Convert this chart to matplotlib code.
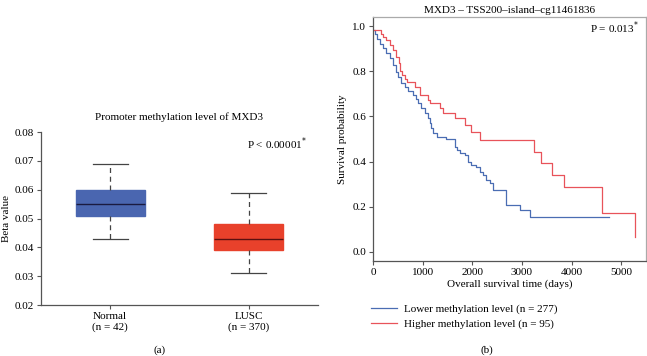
import matplotlib
matplotlib.use("Agg")
import matplotlib.pyplot as plt
from matplotlib.lines import Line2D

plt.rcParams['font.family'] = ['Liberation Serif', 'DejaVu Serif']

# ---- Panel (a) data: box plot statistics ----
groups = ["Normal\n(n = 42)", "LUSC\n(n = 370)"]
whislo = [0.043, 0.031]
q1 = [0.051, 0.039]
med = [0.055, 0.043]
q3 = [0.060, 0.048]
whishi = [0.069, 0.059]
box_colors = ["#4a66b0", "#e8412b"]
a_title = "Promoter methylation level of MXD3"
a_ptext = "P < 0.00001$^{*}$"
a_yticks = [0.02, 0.03, 0.04, 0.05, 0.06, 0.07, 0.08]

# ---- Panel (b) data: Kaplan-Meier step points (days, survival) ----
low_t = [0, 34, 81, 134, 201, 268, 336, 403, 456, 503, 570, 638, 705, 805, 872,
         906, 973, 1040, 1107, 1141, 1174, 1208, 1280, 1480, 1650, 1700, 1745,
         1845, 1912, 1980, 2081, 2148, 2214, 2282, 2349, 2416, 2684, 2952, 3154, 4764]
low_s = [0.985, 0.967, 0.945, 0.923, 0.901, 0.879, 0.857, 0.828, 0.798, 0.773, 0.746,
         0.729, 0.714, 0.695, 0.676, 0.658, 0.636, 0.614, 0.591, 0.569, 0.547, 0.525,
         0.510, 0.500, 0.466, 0.450, 0.437, 0.429, 0.400, 0.385, 0.378, 0.355, 0.341,
         0.319, 0.304, 0.274, 0.208, 0.186, 0.156, 0.156]
high_t = [0, 168, 201, 268, 336, 403, 470, 517, 550, 584, 638, 685, 839, 940, 1107,
          1141, 1342, 1409, 1644, 1845, 1980, 2147, 3240, 3389, 3603, 3838, 4609, 5287]
high_s = [0.982, 0.967, 0.953, 0.938, 0.916, 0.894, 0.864, 0.835, 0.802, 0.783, 0.768,
          0.754, 0.731, 0.695, 0.673, 0.658, 0.636, 0.614, 0.592, 0.562, 0.532, 0.497,
          0.444, 0.392, 0.341, 0.286, 0.174, 0.068]
low_label = "Lower methylation level (n = 277)"
high_label = "Higher methylation level (n = 95)"
b_title = "MXD3 \u2013 TSS200\u2013island\u2013cg11461836"
b_ptext = "P = 0.013$^{*}$"
b_xticks = [0, 1000, 2000, 3000, 4000, 5000]
b_yticks = [0.0, 0.2, 0.4, 0.6, 0.8, 1.0]
low_color = "#4a6db3"
high_color = "#e8535a"

fs = 8
fig = plt.figure(figsize=(6.47, 3.56), dpi=100)

# ---------------- Panel (a) ----------------
axa = fig.add_axes([0.0634, 0.143, 0.428, 0.486])
stats = []
for i in range(len(groups)):
    stats.append(dict(whislo=whislo[i], q1=q1[i], med=med[i], q3=q3[i],
                      whishi=whishi[i], fliers=[], label=groups[i]))
bp = axa.bxp(stats, positions=[1, 2], widths=0.5, patch_artist=True,
             showfliers=False, capwidths=0.25,
             medianprops=dict(color="#1a1a40", linewidth=1.0),
             whiskerprops=dict(color="#444444", linestyle=(0, (4, 3)), linewidth=0.9),
             capprops=dict(color="#444444", linewidth=0.9))
for patch, c in zip(bp['boxes'], box_colors):
    patch.set_facecolor(c)
    patch.set_edgecolor(c)
bp['medians'][1].set_color("#5a1010")
axa.set_xlim(0.5, 2.5)
axa.set_ylim(0.02, 0.08)
axa.set_yticks(a_yticks)
axa.set_yticklabels([f"{v:.2f}" for v in a_yticks])
axa.spines['top'].set_visible(False)
axa.spines['right'].set_visible(False)
for s in ['left', 'bottom']:
    axa.spines[s].set_color("#555555")
    axa.spines[s].set_linewidth(0.9)
axa.tick_params(labelsize=fs, length=3, color="#555555", width=0.8, pad=2)
axa.set_ylabel("Beta value", fontsize=fs, labelpad=3)
axa.set_title(a_title, fontsize=fs, pad=9)
axa.text(0.96, 0.93, a_ptext, transform=axa.transAxes, ha='right', va='center', fontsize=fs)
fig.text(0.247, 0.017, "(a)", ha='center', va='center', fontsize=fs)

# ---------------- Panel (b) ----------------
axb = fig.add_axes([0.5765, 0.267, 0.422, 0.685])
axb.step(low_t, low_s, where='post', color=low_color, linewidth=0.9, label=low_label)
axb.step(high_t, high_s, where='post', color=high_color, linewidth=0.9, label=high_label)
axb.set_xlim(0, 5500)
axb.set_ylim(-0.04, 1.04)
axb.set_xticks(b_xticks)
axb.set_yticks(b_yticks)
axb.set_yticklabels([f"{v:.1f}" for v in b_yticks])
for s in axb.spines.values():
    s.set_color("#555555")
    s.set_linewidth(0.9)
axb.spines['right'].set_color("#aaaaaa")
axb.spines['top'].set_color("#aaaaaa")
axb.tick_params(labelsize=fs, length=3, color="#555555", width=0.8, pad=2)
axb.set_xlabel("Overall survival time (days)", fontsize=fs, labelpad=2)
axb.set_ylabel("Survival probability", fontsize=fs, labelpad=4)
axb.set_title(b_title, fontsize=fs, pad=3)
axb.text(0.975, 0.955, b_ptext, transform=axb.transAxes, ha='right', va='center', fontsize=fs)
handles = [Line2D([0], [0], color=low_color, lw=0.9), Line2D([0], [0], color=high_color, lw=0.9)]
fig.legend(handles, [low_label, high_label], loc='upper left',
           bbox_to_anchor=(0.574, 0.145), frameon=False, fontsize=fs,
           handlelength=2.3, handletextpad=0.6, borderpad=0, borderaxespad=0,
           labelspacing=0.4)
fig.text(0.753, 0.017, "(b)", ha='center', va='center', fontsize=fs)

fig.savefig("out.png", dpi=100)
